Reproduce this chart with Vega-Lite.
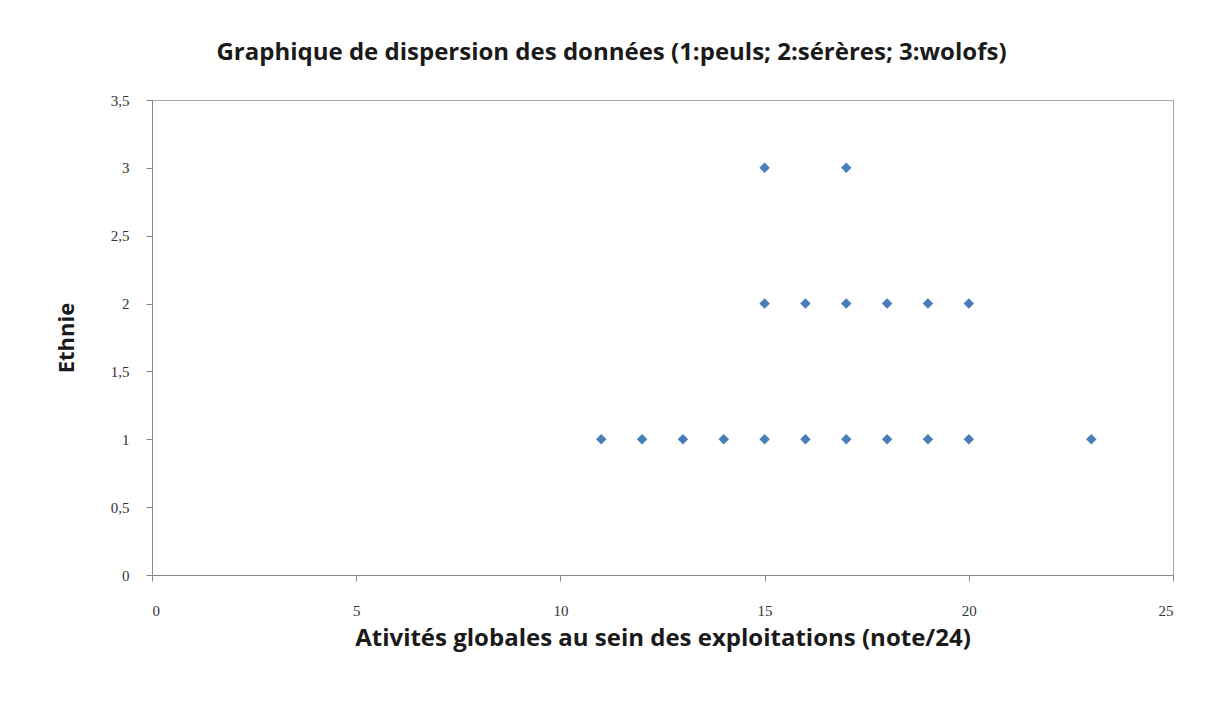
{
  "$schema": "https://vega.github.io/schema/vega-lite/v6.json",
  "width": 1021,
  "height": 475,
  "autosize": {"type": "none"},
  "padding": {"left": 152, "top": 100, "right": 33, "bottom": 129},
  "background": "white",
  "title": {
    "text": "Graphique de dispersion des données (1:peuls; 2:sérères; 3:wolofs)",
    "font": "Open Sans",
    "fontSize": 24,
    "fontWeight": "bold",
    "color": "#1a1a1a",
    "anchor": "middle",
    "frame": "group",
    "dx": -51,
    "offset": 28
  },
  "data": {
    "values": [
      {"note": 11, "ethnie": 1},
      {"note": 12, "ethnie": 1},
      {"note": 13, "ethnie": 1},
      {"note": 14, "ethnie": 1},
      {"note": 15, "ethnie": 1},
      {"note": 16, "ethnie": 1},
      {"note": 17, "ethnie": 1},
      {"note": 18, "ethnie": 1},
      {"note": 19, "ethnie": 1},
      {"note": 20, "ethnie": 1},
      {"note": 23, "ethnie": 1},
      {"note": 15, "ethnie": 2},
      {"note": 16, "ethnie": 2},
      {"note": 17, "ethnie": 2},
      {"note": 18, "ethnie": 2},
      {"note": 19, "ethnie": 2},
      {"note": 20, "ethnie": 2},
      {"note": 15, "ethnie": 3},
      {"note": 17, "ethnie": 3}
    ]
  },
  "mark": {"type": "point", "shape": "diamond", "filled": true, "size": 110, "color": "#4a7ebb", "opacity": 1},
  "encoding": {
    "x": {
      "field": "note",
      "type": "quantitative",
      "scale": {"domain": [0, 25], "nice": false, "zero": false},
      "axis": {
        "values": [0, 5, 10, 15, 20, 25],
        "title": "Ativités globales au sein des exploitations (note/24)",
        "titleFont": "Open Sans",
        "titleFontSize": 24,
        "titleFontWeight": "bold",
        "titleColor": "#1a1a1a",
        "titlePadding": 8,
        "labelFont": "Liberation Serif",
        "labelFontSize": 15,
        "labelColor": "#333333",
        "labelPadding": 22,
        "tickSize": 6,
        "tickColor": "#888888",
        "domainColor": "#888888",
        "grid": false
      }
    },
    "y": {
      "field": "ethnie",
      "type": "quantitative",
      "scale": {"domain": [0, 3.5], "nice": false, "zero": false},
      "axis": {
        "values": [0, 0.5, 1, 1.5, 2, 2.5, 3, 3.5],
        "labelExpr": "replace(format(datum.value, '~g'), '.', ',')",
        "title": "Ethnie",
        "titleFont": "Open Sans",
        "titleFontSize": 22,
        "titleFontWeight": "bold",
        "titleColor": "#1a1a1a",
        "titlePadding": 32,
        "labelFont": "Liberation Serif",
        "labelFontSize": 15,
        "labelColor": "#333333",
        "labelPadding": 17,
        "tickSize": 6,
        "tickColor": "#888888",
        "domainColor": "#888888",
        "grid": false
      }
    }
  },
  "config": {
    "view": {"stroke": "#a6a6a6", "strokeWidth": 1}
  }
}
